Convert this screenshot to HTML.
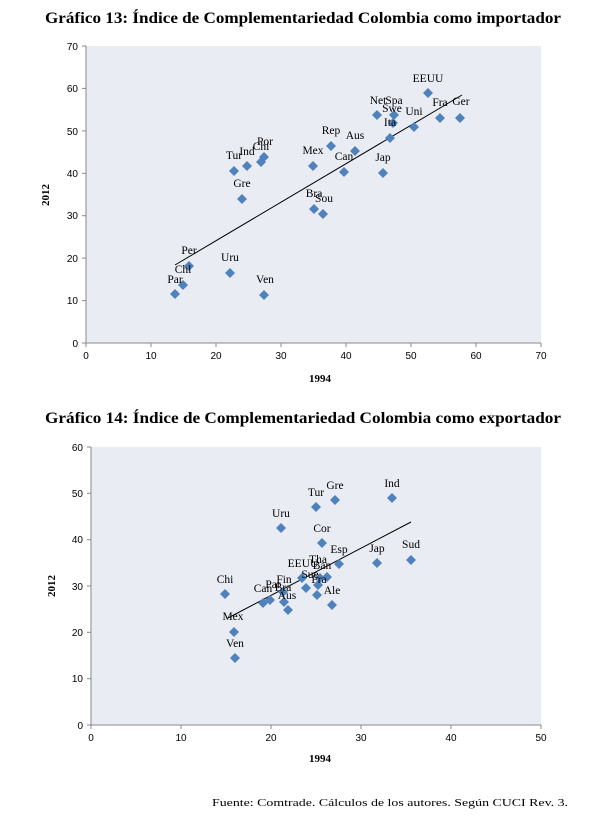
<!DOCTYPE html>
<html><head><meta charset="utf-8"><style>
body{margin:0;background:#fff;}
svg{display:block}
.t{font-family:"Liberation Serif",serif;font-weight:bold;font-size:16px;fill:#000}
.k{font-family:"Liberation Sans",sans-serif;font-size:10px;fill:#000}
.l{font-family:"Liberation Serif",serif;font-size:11.5px;fill:#000;text-anchor:middle}
.a{font-family:"Liberation Serif",serif;font-weight:bold;font-size:11px;fill:#000;text-anchor:middle}
</style></head><body>
<svg width="609" height="825" xmlns="http://www.w3.org/2000/svg">
<defs><path id="d" d="M0,-5 L5,0 L0,5 L-5,0Z" fill="#4f81bd"/></defs>
<text class="t" x="45" y="23" textLength="516" lengthAdjust="spacingAndGlyphs">Gráfico 13: Índice de Complementariedad Colombia como importador</text>
<rect x="86" y="46" width="455" height="297" fill="#e9ecf3"/>
<g stroke="#888" stroke-width="1">
<line x1="86" y1="46" x2="86" y2="343"/><line x1="86" y1="343" x2="541" y2="343"/>
<line x1="82" y1="46" x2="86" y2="46"/><line x1="82" y1="88.4" x2="86" y2="88.4"/><line x1="82" y1="130.9" x2="86" y2="130.9"/><line x1="82" y1="173.3" x2="86" y2="173.3"/><line x1="82" y1="215.7" x2="86" y2="215.7"/><line x1="82" y1="258.1" x2="86" y2="258.1"/><line x1="82" y1="300.6" x2="86" y2="300.6"/><line x1="82" y1="343" x2="86" y2="343"/>
<line x1="86" y1="343" x2="86" y2="347"/><line x1="151" y1="343" x2="151" y2="347"/><line x1="216" y1="343" x2="216" y2="347"/><line x1="281" y1="343" x2="281" y2="347"/><line x1="346" y1="343" x2="346" y2="347"/><line x1="411" y1="343" x2="411" y2="347"/><line x1="476" y1="343" x2="476" y2="347"/><line x1="541" y1="343" x2="541" y2="347"/>
</g>
<g class="k" text-anchor="end">
<text x="78" y="50">70</text><text x="78" y="92">60</text><text x="78" y="135">50</text><text x="78" y="177">40</text><text x="78" y="219">30</text><text x="78" y="262">20</text><text x="78" y="304">10</text><text x="78" y="347">0</text>
</g>
<g class="k" text-anchor="middle">
<text x="86" y="359">0</text><text x="151" y="359">10</text><text x="216" y="359">20</text><text x="281" y="359">30</text><text x="346" y="359">40</text><text x="411" y="359">50</text><text x="476" y="359">60</text><text x="541" y="359">70</text>
</g>
<text class="a" x="320" y="382">1994</text>
<text class="a" transform="translate(49,195) rotate(-90)">2012</text>
<line x1="175" y1="265" x2="462" y2="95" stroke="#000" stroke-width="1"/>
<g>
<use href="#d" x="428" y="93"/><use href="#d" x="377" y="115"/><use href="#d" x="394" y="115"/><use href="#d" x="393" y="123"/><use href="#d" x="390" y="138"/><use href="#d" x="414" y="127"/><use href="#d" x="440" y="118"/><use href="#d" x="460" y="118"/><use href="#d" x="331" y="146"/><use href="#d" x="355" y="151"/><use href="#d" x="313" y="166"/><use href="#d" x="344" y="172"/><use href="#d" x="383" y="173"/><use href="#d" x="264" y="157"/><use href="#d" x="261" y="162"/><use href="#d" x="247" y="166"/><use href="#d" x="234" y="171"/><use href="#d" x="242" y="199"/><use href="#d" x="314" y="209"/><use href="#d" x="323" y="214"/><use href="#d" x="189" y="266"/><use href="#d" x="183" y="285"/><use href="#d" x="175" y="294"/><use href="#d" x="230" y="273"/><use href="#d" x="264" y="295"/>
</g>
<g class="l">
<text x="428" y="82">EEUU</text><text x="378" y="104">Net</text><text x="394" y="104">Spa</text><text x="392" y="112">Swe</text><text x="390" y="126">Ita</text><text x="414" y="115">Uni</text><text x="440" y="106">Fra</text><text x="461" y="105">Ger</text><text x="331" y="134">Rep</text><text x="355" y="139">Aus</text><text x="313" y="154">Mex</text><text x="344" y="160">Can</text><text x="383" y="161">Jap</text><text x="265" y="145">Por</text><text x="261" y="150">Chi</text><text x="247" y="155">Ind</text><text x="234" y="159">Tur</text><text x="242" y="187">Gre</text><text x="314" y="197">Bra</text><text x="324" y="202">Sou</text><text x="189" y="254">Per</text><text x="183" y="273">Chl</text><text x="175" y="283">Par</text><text x="230" y="261">Uru</text><text x="265" y="283">Ven</text>
</g>

<text class="t" x="45" y="423" textLength="516" lengthAdjust="spacingAndGlyphs">Gráfico 14: Índice de Complementariedad Colombia como exportador</text>
<rect x="91" y="447" width="450" height="278" fill="#e9ecf3"/>
<g stroke="#888" stroke-width="1">
<line x1="91" y1="447" x2="91" y2="725"/><line x1="91" y1="725" x2="541" y2="725"/>
<line x1="87" y1="447" x2="91" y2="447"/><line x1="87" y1="493.3" x2="91" y2="493.3"/><line x1="87" y1="539.7" x2="91" y2="539.7"/><line x1="87" y1="586" x2="91" y2="586"/><line x1="87" y1="632.3" x2="91" y2="632.3"/><line x1="87" y1="678.7" x2="91" y2="678.7"/><line x1="87" y1="725" x2="91" y2="725"/>
<line x1="91" y1="725" x2="91" y2="729"/><line x1="181" y1="725" x2="181" y2="729"/><line x1="271" y1="725" x2="271" y2="729"/><line x1="361" y1="725" x2="361" y2="729"/><line x1="451" y1="725" x2="451" y2="729"/><line x1="541" y1="725" x2="541" y2="729"/>
</g>
<g class="k" text-anchor="end">
<text x="83" y="451">60</text><text x="83" y="497">50</text><text x="83" y="543">40</text><text x="83" y="590">30</text><text x="83" y="636">20</text><text x="83" y="682">10</text><text x="83" y="729">0</text>
</g>
<g class="k" text-anchor="middle">
<text x="91" y="741">0</text><text x="181" y="741">10</text><text x="271" y="741">20</text><text x="361" y="741">30</text><text x="451" y="741">40</text><text x="541" y="741">50</text>
</g>
<text class="a" x="320" y="762">1994</text>
<text class="a" transform="translate(55,586) rotate(-90)">2012</text>
<line x1="228" y1="618" x2="411" y2="522" stroke="#000" stroke-width="1"/>
<g>
<use href="#d" x="335" y="500"/><use href="#d" x="392" y="498"/><use href="#d" x="316" y="507"/><use href="#d" x="281" y="528"/><use href="#d" x="322" y="543"/><use href="#d" x="339" y="564"/><use href="#d" x="377" y="563"/><use href="#d" x="411" y="560"/><use href="#d" x="225" y="594"/><use href="#d" x="234" y="632"/><use href="#d" x="235" y="658"/><use href="#d" x="263" y="603"/><use href="#d" x="270" y="600"/><use href="#d" x="284" y="602"/><use href="#d" x="288" y="610"/><use href="#d" x="306" y="588"/><use href="#d" x="317" y="595"/><use href="#d" x="318" y="585"/><use href="#d" x="332" y="605"/><use href="#d" x="327" y="577"/><use href="#d" x="320" y="578"/><use href="#d" x="302" y="578"/><use href="#d" x="283" y="592"/>
</g>
<g class="l">
<text x="335" y="489">Gre</text><text x="392" y="487">Ind</text><text x="316" y="496">Tur</text><text x="281" y="517">Uru</text><text x="322" y="532">Cor</text><text x="339" y="553">Esp</text><text x="377" y="552">Jap</text><text x="411" y="548">Sud</text><text x="225" y="583">Chi</text><text x="233" y="620">Mex</text><text x="235" y="647">Ven</text><text x="263" y="592">Can</text><text x="273" y="588">Par</text><text x="284" y="583">Fin</text><text x="283" y="591">Bra</text><text x="287" y="599">Aus</text><text x="303" y="567">EEUU</text><text x="318" y="563">Tha</text><text x="322" y="569">Ban</text><text x="310" y="578">Sue</text><text x="319" y="583">Fra</text><text x="332" y="594">Ale</text>
</g>
<text x="212" y="806" style="font-family:'Liberation Serif',serif;font-size:11px" textLength="356" lengthAdjust="spacingAndGlyphs">Fuente: Comtrade. Cálculos de los autores. Según CUCI Rev. 3.</text>
</svg>
</body></html>
